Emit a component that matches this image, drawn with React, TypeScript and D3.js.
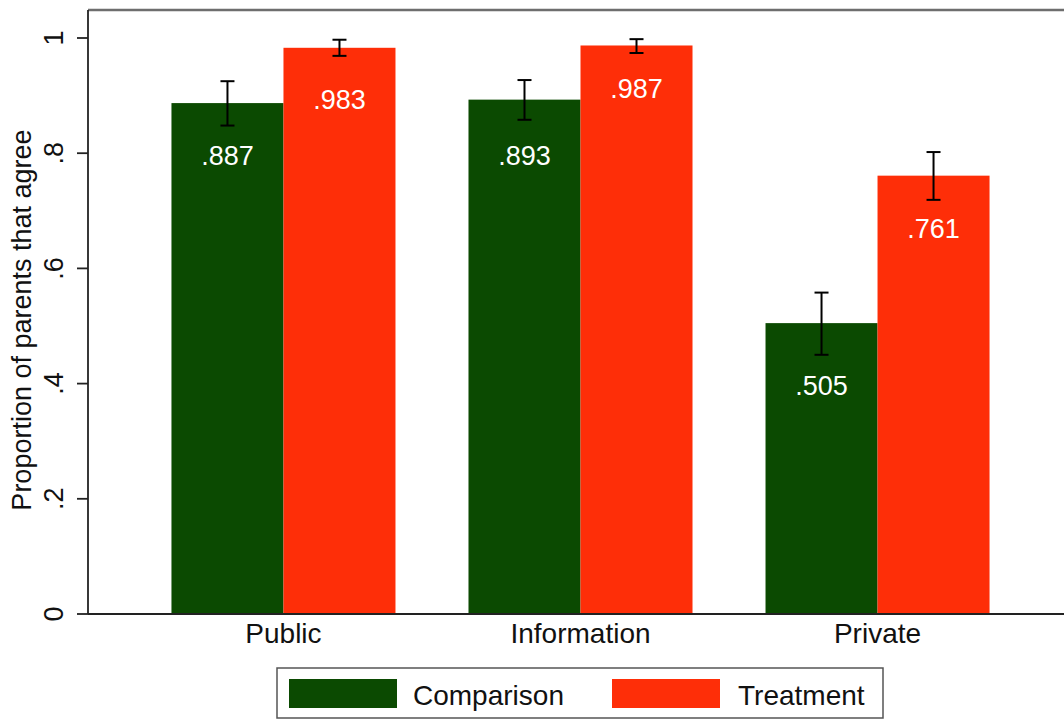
import React from 'react';
import * as d3 from 'd3';

const categories = ['Public', 'Information', 'Private'];
const groups = ['Comparison', 'Treatment'];
const comparison = [0.887, 0.893, 0.505];
const treatment = [0.983, 0.987, 0.761];
const comparisonLo = [0.848, 0.858, 0.45];
const comparisonHi = [0.925, 0.927, 0.558];
const treatmentLo = [0.969, 0.974, 0.719];
const treatmentHi = [0.997, 0.998, 0.802];
// where the value labels sit, in data units (placed by hand in the original)
const comparisonLabelAt = [0.78, 0.78, 0.38];
const treatmentLabelAt = [0.877, 0.896, 0.652];
const yTicks = [0, 0.2, 0.4, 0.6, 0.8, 1];
const yTickLabels = ['0', '.2', '.4', '.6', '.8', '1'];

const colors: Record<string, string> = { Comparison: '#0b4a01', Treatment: '#fe2e08' };
const FONT = '"Liberation Sans", Arial, Helvetica, sans-serif';

const App: React.FC = () => {
  const width = 1064;
  const height = 719;
  const margin = { top: 10, left: 88, bottom: 614 };

  const x0 = d3.scaleBand<string>()
    .domain(categories)
    .range([margin.left, 1073])
    .paddingInner(0.2458)
    .paddingOuter(0.281);
  const x1 = d3.scaleBand<string>().domain(groups).range([0, x0.bandwidth()]);
  const y = d3.scaleLinear().domain([0, 1]).range([margin.bottom, 38]);

  const fmt = (v: number) => d3.format('.3f')(v).replace(/^0/, '');

  const series = [
    { key: 'Comparison', values: comparison, lo: comparisonLo, hi: comparisonHi, labelAt: comparisonLabelAt },
    { key: 'Treatment', values: treatment, lo: treatmentLo, hi: treatmentHi, labelAt: treatmentLabelAt },
  ];

  const legend = [
    { key: 'Comparison', sx: 289, tx: 413 },
    { key: 'Treatment', sx: 612, tx: 738 },
  ];

  return (
    <div style={{ position: 'absolute', left: 0, top: 0, background: '#fff' }}>
      <svg width={width} height={height} viewBox={`0 0 ${width} ${height}`} style={{ display: 'block', fontFamily: FONT }}>
        <rect width={width} height={height} fill="#fff" />

        {series.map(s => (
          <g key={s.key}>
            {categories.map((c, i) => {
              const bx = (x0(c) ?? 0) + (x1(s.key) ?? 0);
              const bw = x1.bandwidth();
              const cx = bx + bw / 2;
              return (
                <g key={c}>
                  <rect x={bx} y={y(s.values[i])} width={bw} height={y(0) - y(s.values[i])} fill={colors[s.key]} />
                  <text x={cx} y={y(s.labelAt[i])} textAnchor="middle" fontSize="27" fill="#fff">
                    {fmt(s.values[i])}
                  </text>
                </g>
              );
            })}
          </g>
        ))}

        {series.map(s => (
          <g key={s.key + '-err'} stroke="#000" strokeWidth="2">
            {categories.map((c, i) => {
              const cx = (x0(c) ?? 0) + (x1(s.key) ?? 0) + x1.bandwidth() / 2;
              return (
                <g key={c}>
                  <line x1={cx} x2={cx} y1={y(s.lo[i])} y2={y(s.hi[i])} />
                  <line x1={cx - 7} x2={cx + 7} y1={y(s.lo[i])} y2={y(s.lo[i])} />
                  <line x1={cx - 7} x2={cx + 7} y1={y(s.hi[i])} y2={y(s.hi[i])} />
                </g>
              );
            })}
          </g>
        ))}

        {/* frame */}
        <line x1={margin.left} x2={width} y1={margin.top} y2={margin.top} stroke="#6e6e6e" strokeWidth="2.5" />
        <line x1={margin.left} x2={margin.left} y1={margin.top} y2={y(0)} stroke="#222" strokeWidth="1.8" />
        <line x1={margin.left} x2={width} y1={y(0)} y2={y(0)} stroke="#222" strokeWidth="1.8" />

        {/* y axis */}
        {yTicks.map((t, i) => (
          <g key={t}>
            <line x1={77} x2={margin.left} y1={y(t)} y2={y(t)} stroke="#222" strokeWidth="1.8" />
            <text transform={`translate(63, ${y(t)}) rotate(-90)`} textAnchor="middle" fontSize="27" fill="#111">
              {yTickLabels[i]}
            </text>
          </g>
        ))}
        <text transform="translate(31, 320) rotate(-90)" textAnchor="middle" fontSize="27" fill="#111">
          Proportion of parents that agree
        </text>

        {/* x axis labels */}
        {categories.map(c => (
          <text key={c} x={(x0(c) ?? 0) + x0.bandwidth() / 2} y={643} textAnchor="middle" fontSize="28" fill="#111">
            {c}
          </text>
        ))}

        {/* legend */}
        <rect x={277} y={668} width={606} height={50} fill="#fff" stroke="#555" strokeWidth="1.5" />
        {legend.map(l => (
          <g key={l.key}>
            <rect x={l.sx} y={679} width={108} height={29} fill={colors[l.key]} />
            <text x={l.tx} y={705} fontSize="28" fill="#111">{l.key}</text>
          </g>
        ))}
      </svg>
    </div>
  );
};

export default App;
